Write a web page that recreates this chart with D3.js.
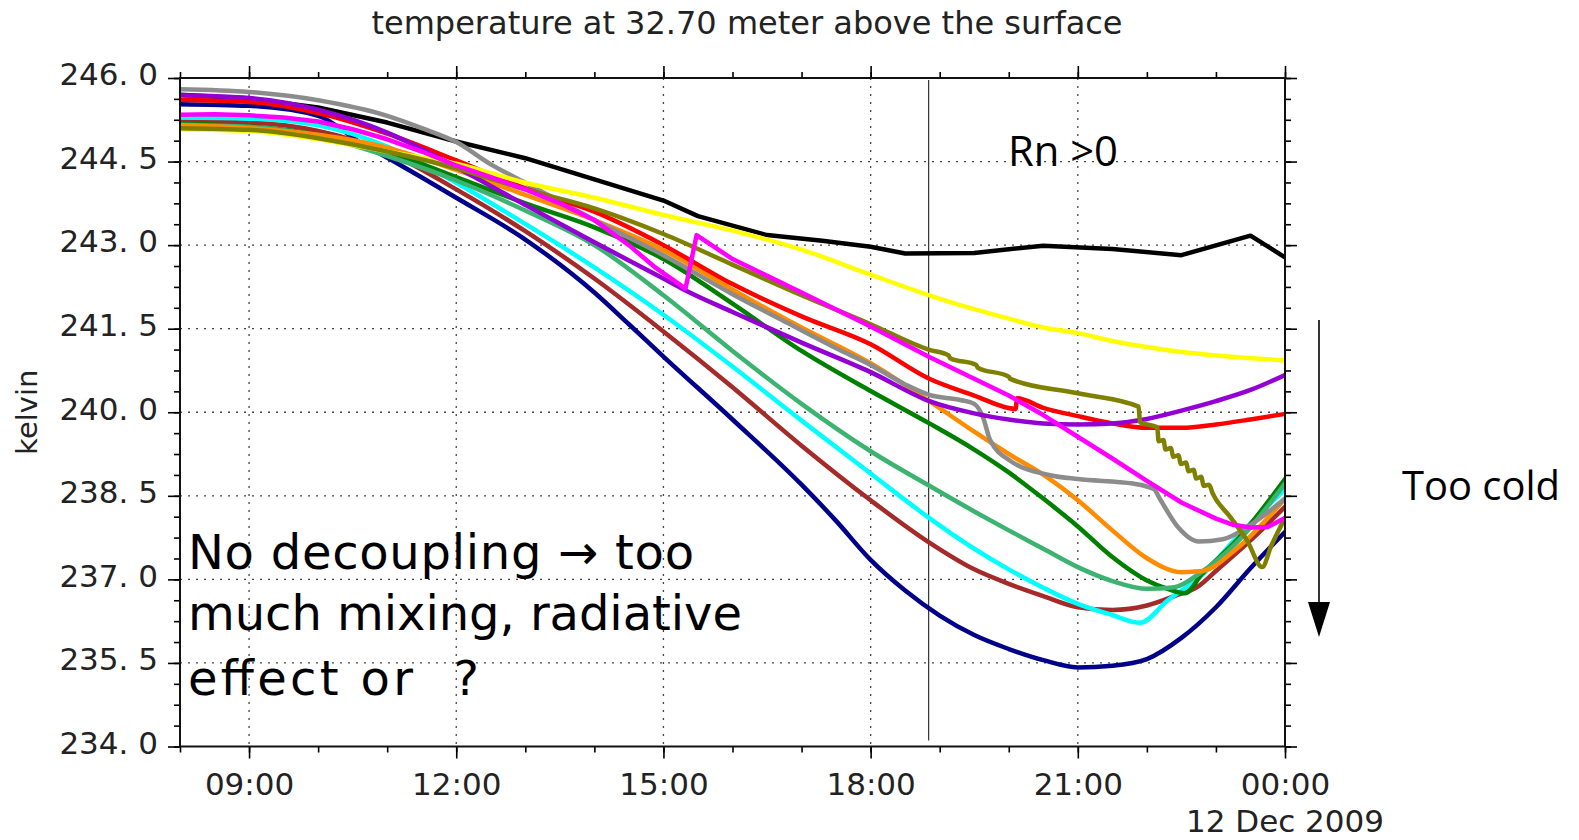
<!DOCTYPE html>
<html><head><meta charset="utf-8">
<script src="https://cdn.jsdelivr.net/npm/d3@7"></script>
<style>
html,body{margin:0;padding:0;background:#fff;}
svg{display:block;}
</style></head><body>
<svg id="chart" width="1579" height="840"></svg>
<script>
// ---------- data (hour of 11 Dec 2009, kelvin) ----------
const xTickHours = [9, 12, 15, 18, 21, 24];
const xTickLabels = ["09:00", "12:00", "15:00", "18:00", "21:00", "00:00"];
const yTickValues = [234, 235.5, 237, 238.5, 240, 241.5, 243, 244.5, 246];
const yTickLabels = ["234. 0", "235. 5", "237. 0", "238. 5", "240. 0", "241. 5", "243. 0", "244. 5", "246. 0"];
const rnHour = 18.84;

const obsBlack = [[8,245.70],[9,245.63],[10,245.47],[11,245.2],[12,244.86],[13,244.56],[14,244.18],[15,243.8],[15.5,243.52],[16.5,243.18],[17.3,243.08],[18,242.97],[18.5,242.85],[19.5,242.86],[20.5,242.99],[21.5,242.93],[22.5,242.82],[23.5,243.17],[24,242.78]];
const runNavy = [[8,245.53],[9,245.5],[10,245.32],[10.6,244.85],[11.1,244.5],[12,243.85],[13,243.1],[14,242.15],[14.5,241.58],[15,241.0],[16,239.87],[17,238.7],[17.5,238.05],[18,237.35],[18.5,236.8],[19,236.35],[19.5,236.0],[20,235.75],[20.5,235.55],[21,235.42],[21.5,235.45],[22,235.57],[22.5,235.95],[23,236.5],[23.5,237.2],[24,237.85]];
const runBrown = [[8,245.22],[9,245.2],[10,245.05],[11,244.67],[12,244.0],[13,243.25],[14,242.4],[15,241.45],[16,240.45],[17,239.4],[18,238.42],[18.85,237.66],[19.5,237.18],[20,236.92],[20.5,236.7],[21,236.5],[21.5,236.45],[22,236.53],[22.4,236.7],[22.75,236.88],[23,237.15],[23.5,237.7],[24,238.3]];
const runCyan = [[8,245.29],[9,245.27],[10,245.15],[11,244.77],[12,244.12],[13,243.38],[14,242.6],[15,241.75],[16,240.82],[17,239.85],[18,238.9],[18.85,238.1],[19.5,237.55],[20,237.18],[20.5,236.85],[21,236.56],[21.5,236.36],[21.9,236.22],[22.3,236.62],[22.8,237.08],[23.3,237.75],[24,238.62]];
const runGreen = [[8,245.18],[9,245.13],[10,244.98],[11,244.68],[12,244.22],[13,243.75],[14,243.32],[15,242.75],[16,241.95],[17,241.1],[18,240.38],[18.85,239.8],[19.5,239.33],[20,238.92],[20.5,238.45],[21,237.95],[21.5,237.4],[22,236.98],[22.3,236.83],[22.55,236.75],[22.8,237.1],[23.3,237.7],[24,238.8]];
const runSeaGreen = [[8,245.16],[9,245.12],[10,244.96],[11,244.6],[12,244.16],[13,243.62],[14,243.0],[15,242.1],[16,241.1],[17,240.15],[18,239.3],[18.85,238.68],[19.5,238.22],[20,237.88],[20.5,237.55],[21,237.22],[21.5,236.97],[22,236.83],[22.4,236.86],[22.8,237.14],[23.3,237.66],[24,238.72]];
const runOrange = [[8,245.15],[9,245.1],[10,244.98],[11,244.75],[12,244.35],[13,243.9],[14,243.45],[15,242.91],[16,242.2],[17,241.52],[18,240.88],[18.85,240.2],[19.5,239.65],[20,239.25],[20.5,238.88],[21,238.42],[21.5,237.88],[22,237.38],[22.5,237.13],[22.8,237.15],[23.3,237.55],[24,238.45]];
const runGray = [[8,245.8],[9,245.75],[10,245.6],[11,245.32],[11.5,245.1],[12,244.85],[12.5,244.45],[13,244.12],[14,243.45],[15,242.82],[16,242.12],[16.8,241.6],[17.5,241.15],[18,240.85],[18.5,240.5],[18.85,240.31],[19.3,240.22],[19.5,240.15],[19.63,239.9],[19.73,239.5],[20.02,239.13],[20.6,238.87],[21,238.8],[21.8,238.72],[22.1,238.62],[22.2,238.42],[22.45,237.94],[22.75,237.68],[23.1,237.72],[23.5,237.98],[24,238.45]];
const runRed = [[8,245.61],[9,245.57],[10,245.37],[11,245.0],[12,244.52],[13,244.02],[14,243.6],[15,243.0],[16,242.3],[17,241.72],[18,241.22],[18.85,240.6],[19.5,240.3],[20.1,240.06],[20.12,240.25],[20.5,240.08],[21,239.93],[21.5,239.8],[22,239.72],[22.5,239.72],[23,239.78],[23.5,239.87],[24,239.97]];
const runPurple = [[8,245.69],[9,245.64],[10,245.43],[11,245.02],[12,244.4],[13,243.72],[14,243.05],[15,242.4],[15.3,242.2],[16,241.8],[17,241.25],[18,240.72],[18.85,240.2],[19.5,239.98],[20,239.87],[20.5,239.8],[21,239.78],[21.5,239.8],[22,239.88],[22.5,240.03],[23,240.2],[23.5,240.4],[24,240.67]];
const runYellow = [[8,245.08],[9,245.05],[10,244.9],[11,244.68],[12,244.46],[13,244.12],[14,243.85],[15,243.54],[16,243.26],[17,242.92],[18,242.47],[18.85,242.1],[19.5,241.85],[20,241.68],[20.5,241.52],[21,241.42],[21.5,241.28],[22,241.17],[22.5,241.08],[23,241.02],[23.5,240.97],[24,240.93]];
const runOlive = [[8,245.1],[9,245.07],[10,244.92],[11,244.68],[12,244.38],[13,244.0],[14,243.66],[15,243.2],[16,242.65],[17,242.1],[18,241.58],[18.85,241.12],[19.13,241.02],[19.15,240.97],[19.53,240.85],[19.55,240.8],[20.0,240.64],[20.02,240.6],[21,240.34],[21.88,240.1],[21.9,239.82],[22.15,239.73],[22.17,239.48],[22.24,239.5],[22.27,239.33],[22.35,239.36],[22.38,239.2],[22.46,239.23],[22.49,239.07],[22.57,239.1],[22.6,238.94],[22.68,238.97],[22.71,238.81],[22.79,238.84],[22.82,238.68],[22.9,238.7],[22.95,238.55],[23.2,238.13],[23.45,237.7],[23.67,237.22],[23.8,237.6],[24,238.1]];
const runMagenta = [[8,245.34],[8.5,245.35],[9,245.33],[9.5,245.29],[10,245.22],[10.5,245.08],[11,244.9],[11.5,244.68],[12,244.43],[12.5,244.22],[13,244.0],[13.5,243.75],[14,243.45],[14.5,243.0],[14.86,242.62],[15.32,242.22],[15.48,243.18],[16,242.75],[17,242.15],[18,241.54],[18.85,240.99],[19.5,240.6],[20,240.3],[20.5,239.95],[21,239.56],[21.5,239.17],[22,238.77],[22.5,238.38],[23,238.09],[23.25,237.98],[23.5,237.93],[23.75,237.94],[24,238.1]];

const seriesList = [obsBlack, runNavy, runBrown, runCyan, runGreen, runSeaGreen, runOrange, runGray, runRed, runPurple, runYellow, runOlive, runMagenta];
const seriesColors = ["#000000", "#00008b", "#a52a2a", "#00ffff", "#008000", "#3cb371", "#ff8c00", "#8c8c8c", "#ff0000", "#9400d3", "#ffff00", "#808000", "#ff00ff"];
const seriesLinear = [true, false, false, false, false, false, false, false, false, false, false, false, true];

// ---------- layout ----------
const svg = d3.select("#chart");
const L = 180, R = 1285, T = 78, B = 746.5;
const x = d3.scaleLinear().domain([8, 24]).range([L, R]);
const y = d3.scaleLinear().domain([234, 246]).range([B, T]);
const tickFont = "DejaVu Sans, sans-serif";

// grid
const grid = svg.append("g");
grid.selectAll("line.gx").data(xTickHours.slice(0, -1)).join("line")
  .attr("x1", d => x(d)).attr("x2", d => x(d)).attr("y1", T).attr("y2", B)
  .attr("stroke", "#444").attr("stroke-width", 1.3).attr("stroke-dasharray", "2,6");
grid.selectAll("line.gy").data(yTickValues.slice(1, -1)).join("line")
  .attr("x1", L).attr("x2", R).attr("y1", d => y(d)).attr("y2", d => y(d))
  .attr("stroke", "#444").attr("stroke-width", 1.3).attr("stroke-dasharray", "2,6");

// Rn line
svg.append("line").attr("x1", x(rnHour)).attr("x2", x(rnHour)).attr("y1", T + 2).attr("y2", B - 6)
  .attr("stroke", "#333").attr("stroke-width", 1.2);

// series
svg.append("defs").append("clipPath").attr("id", "clip").append("rect")
  .attr("x", L).attr("y", T).attr("width", R - L).attr("height", B - T);
const lines = svg.append("g").attr("clip-path", "url(#clip)");
seriesList.forEach((s, i) => {
  const gen = d3.line().x(d => x(d[0])).y(d => y(d[1]))
    .curve(seriesLinear[i] ? d3.curveLinear : d3.curveMonotoneX);
  lines.append("path").datum(s).attr("d", gen)
    .attr("fill", "none").attr("stroke", seriesColors[i]).attr("stroke-width", 4.5)
    .attr("stroke-linejoin", "round").attr("stroke-linecap", "round");
});

// axes
const minorY = d3.range(234, 246.0001, 0.375);
const minorX = d3.range(8, 24.0001, 1);
function styleAxis(g) {
  g.select(".domain").remove();
  g.selectAll("line").attr("stroke", "#000").attr("stroke-width", 1.6);
  g.selectAll("text").attr("font-family", tickFont).attr("font-size", 31).attr("fill", "#222");
}
svg.append("g").attr("transform", `translate(${L},0)`)
  .call(d3.axisLeft(y).tickValues(minorY).tickSize(6).tickFormat(""))
  .call(styleAxis);
svg.append("g").attr("transform", `translate(${R},0)`)
  .call(d3.axisRight(y).tickValues(minorY).tickSize(6).tickFormat(""))
  .call(styleAxis);
svg.append("g").attr("transform", `translate(0,${B})`)
  .call(d3.axisBottom(x).tickValues(minorX).tickSize(6).tickFormat(""))
  .call(styleAxis);
svg.append("g").attr("transform", `translate(0,${T})`)
  .call(d3.axisTop(x).tickValues(minorX).tickSize(6).tickFormat(""))
  .call(styleAxis);

const yAx = svg.append("g").attr("transform", `translate(${L},0)`)
  .call(d3.axisLeft(y).tickValues(yTickValues).tickSize(12).tickPadding(10)
    .tickFormat((d, i) => yTickLabels[i]))
  .call(styleAxis);
yAx.selectAll("text").attr("dy", "0.22em");
svg.append("g").attr("transform", `translate(${R},0)`)
  .call(d3.axisRight(y).tickValues(yTickValues).tickSize(12).tickFormat(""))
  .call(styleAxis);
svg.append("g").attr("transform", `translate(0,${B})`)
  .call(d3.axisBottom(x).tickValues(xTickHours).tickSize(12).tickPadding(14)
    .tickFormat((d, i) => xTickLabels[i]))
  .call(styleAxis);
svg.append("g").attr("transform", `translate(0,${T})`)
  .call(d3.axisTop(x).tickValues(xTickHours).tickSize(12).tickFormat(""))
  .call(styleAxis);

// frame
svg.append("rect").attr("x", L).attr("y", T).attr("width", R - L).attr("height", B - T)
  .attr("fill", "none").attr("stroke", "#111").attr("stroke-width", 2);

// texts
svg.append("text").attr("x", 747).attr("y", 34).attr("text-anchor", "middle")
  .attr("font-family", tickFont).attr("font-size", 32).attr("fill", "#222")
  .text("temperature at 32.70 meter above the surface");
svg.append("text").attr("x", x(24)).attr("y", 832).attr("text-anchor", "middle")
  .attr("font-family", tickFont).attr("font-size", 31).attr("fill", "#222")
  .text("12 Dec 2009");
svg.append("text").attr("transform", `translate(37,${(T + B) / 2}) rotate(-90)`)
  .attr("text-anchor", "middle")
  .attr("font-family", tickFont).attr("font-size", 29).attr("fill", "#222")
  .text("kelvin");

function fitText(sel, targetW) {
  const w = sel.node().getComputedTextLength();
  const fs = parseFloat(sel.attr("font-size"));
  sel.attr("font-size", fs * targetW / w);
}
const annoFont = "'Open Sans', 'Noto Sans', sans-serif";
const rn = svg.append("text").attr("x", 1008).attr("y", 166)
  .attr("font-family", annoFont).attr("font-size", 40).attr("fill", "#000").text("Rn >0");
fitText(rn, 110);
const tc = svg.append("text").attr("x", 1402).attr("y", 500)
  .attr("font-family", annoFont).attr("font-size", 40).attr("fill", "#000").text("Too cold");
fitText(tc, 158);

// arrow
const ax = R + 34;
svg.append("line").attr("x1", ax).attr("x2", ax).attr("y1", 320).attr("y2", 606)
  .attr("stroke", "#000").attr("stroke-width", 1.6);
svg.append("path").attr("d", `M${ax - 11},602 L${ax + 11},602 L${ax},637 Z`).attr("fill", "#000");

// big comment
const bigFont = "'DejaVu Sans', sans-serif";
const bigLines = ["No decoupling \u2192 too", "much mixing, radiative", "effect or  ?"];
const bigTargets = [506, 554, 291];
const bigBase = [569, 630, 695];
const bg = svg.append("g");
bigLines.forEach((t, i) => {
  bg.append("text").attr("x", 188).attr("y", bigBase[i])
    .attr("font-family", bigFont).attr("font-size", 48).attr("fill", "#000")
    .attr("textLength", bigTargets[i]).attr("lengthAdjust", "spacing")
    .style("white-space", "pre").text(t);
});
</script>
</body></html>
